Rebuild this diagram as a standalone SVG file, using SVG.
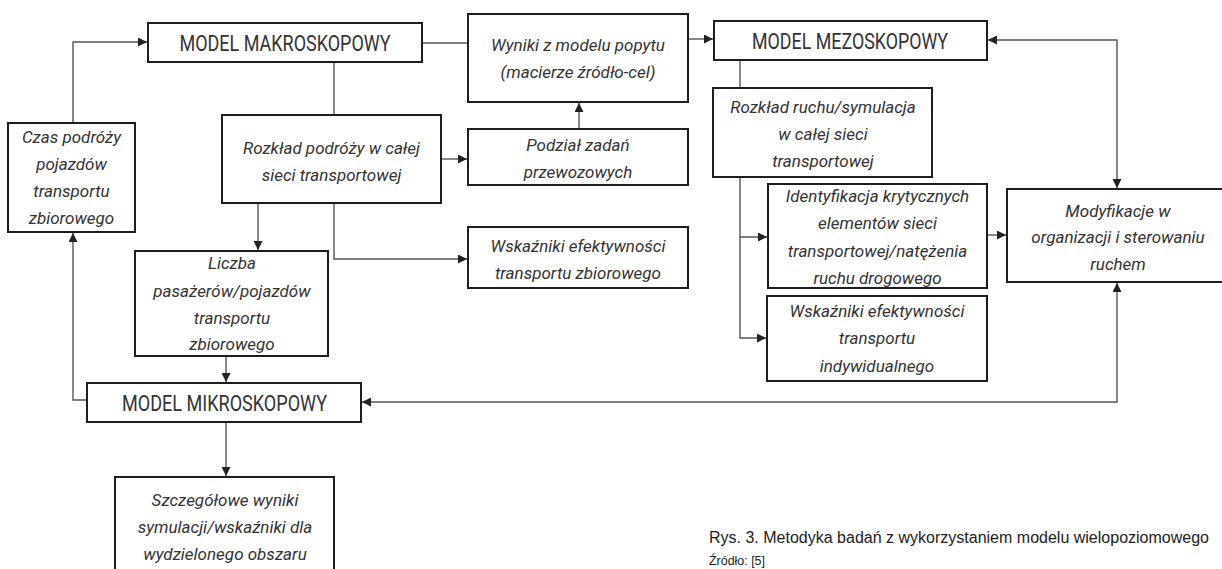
<svg xmlns="http://www.w3.org/2000/svg" width="1222" height="569" viewBox="0 0 1222 569">
<style>
.box{fill:#fff;stroke:#1e1e1e;stroke-width:2}
.c{fill:none;stroke:#555;stroke-width:1.4}
.t{font-family:Roboto,"Liberation Sans",sans-serif;font-style:italic;font-size:17px;fill:#333;text-anchor:middle}
.h{font-family:Roboto,"Liberation Sans",sans-serif;font-size:22px;fill:#333;text-anchor:middle}
.cap{font-family:"Liberation Sans",Arial,sans-serif;fill:#222}
</style>
<defs>
<marker id="ar" viewBox="0 0 10 10" refX="10" refY="5" markerWidth="9" markerHeight="9" markerUnits="userSpaceOnUse" orient="auto-start-reverse">
<path d="M0,0 L10,5 L0,10 z" fill="#222"/>
</marker>
</defs>
<g id="connectors">
<path class="c" d="M73,123 V42 H147" marker-end="url(#ar)"/>
<path class="c" d="M334,62 V115"/>
<path class="c" d="M422,43 H468"/>
<path class="c" d="M688,39 H713" marker-end="url(#ar)"/>
<path class="c" d="M579,129 V103" marker-end="url(#ar)"/>
<path class="c" d="M441,159 H467" marker-end="url(#ar)"/>
<path class="c" d="M258,203 V250" marker-end="url(#ar)"/>
<path class="c" d="M334,203 V259 H467" marker-end="url(#ar)"/>
<path class="c" d="M226,356 V382" marker-end="url(#ar)"/>
<path class="c" d="M226,422 V476" marker-end="url(#ar)"/>
<path class="c" d="M87,400 H73 V233" marker-end="url(#ar)"/>
<path class="c" d="M740,60 V88"/>
<path class="c" d="M740,177 V237 H767" marker-end="url(#ar)"/>
<path class="c" d="M740,237 V338 H766" marker-end="url(#ar)"/>
<path class="c" d="M987,235 H1006" marker-end="url(#ar)"/>
<path class="c" d="M988,40 H1117 V188" marker-start="url(#ar)" marker-end="url(#ar)"/>
<path class="c" d="M362,402 H1117 V283" marker-start="url(#ar)" marker-end="url(#ar)"/>
</g>
<g id="makro">
<rect class="box" x="148" y="23" width="274" height="39"/>
<text class="h" x="285" y="51" textLength="211" lengthAdjust="spacingAndGlyphs">MODEL MAKROSKOPOWY</text>
</g>
<g id="czas">
<rect class="box" x="8" y="123" width="127" height="109"/>
<text class="t" x="71.5" y="143">Czas podróży</text>
<text class="t" x="71.5" y="170">pojazdów</text>
<text class="t" x="71.5" y="197">transportu</text>
<text class="t" x="71.5" y="224">zbiorowego</text>
</g>
<g id="rozklad-podrozy">
<rect class="box" x="222" y="115" width="219" height="88"/>
<text class="t" x="331.5" y="154">Rozkład podróży w całej</text>
<text class="t" x="331.5" y="181">sieci transportowej</text>
</g>
<g id="wyniki">
<rect class="box" x="468" y="14" width="220" height="88"/>
<text class="t" x="578" y="51">Wyniki z modelu popytu</text>
<text class="t" x="578" y="78">(macierze źródło-cel)</text>
</g>
<g id="podzial">
<rect class="box" x="468" y="129" width="220" height="56"/>
<text class="t" x="578" y="151">Podział zadań</text>
<text class="t" x="578" y="178">przewozowych</text>
</g>
<g id="wskazniki-zbiorowego">
<rect class="box" x="468" y="227" width="220" height="61"/>
<text class="t" x="578" y="252">Wskaźniki efektywności</text>
<text class="t" x="578" y="279">transportu zbiorowego</text>
</g>
<g id="liczba">
<rect class="box" x="135" y="251" width="193" height="105"/>
<text class="t" x="232" y="269">Liczba</text>
<text class="t" x="232" y="297">pasażerów/pojazdów</text>
<text class="t" x="232" y="324">transportu</text>
<text class="t" x="232" y="350">zbiorowego</text>
</g>
<g id="mikro">
<rect class="box" x="87" y="383" width="274" height="39"/>
<text class="h" x="224.5" y="411" textLength="205" lengthAdjust="spacingAndGlyphs">MODEL MIKROSKOPOWY</text>
</g>
<g id="szczegolowe">
<rect class="box" x="115" y="477" width="219" height="110"/>
<text class="t" x="225" y="506">Szczegółowe wyniki</text>
<text class="t" x="225" y="533">symulacji/wskaźniki dla</text>
<text class="t" x="225" y="560">wydzielonego obszaru</text>
</g>
<g id="mezo">
<rect class="box" x="714" y="21" width="273" height="39"/>
<text class="h" x="850" y="49" textLength="196" lengthAdjust="spacingAndGlyphs">MODEL MEZOSKOPOWY</text>
</g>
<g id="rozklad-ruchu">
<rect class="box" x="713" y="88" width="219" height="89"/>
<text class="t" x="823" y="113">Rozkład ruchu/symulacja</text>
<text class="t" x="823" y="140">w całej sieci</text>
<text class="t" x="823" y="167">transportowej</text>
</g>
<g id="identyfikacja">
<rect class="box" x="768" y="184" width="219" height="104"/>
<text class="t" x="877.5" y="202">Identyfikacja krytycznych</text>
<text class="t" x="877.5" y="229">elementów sieci</text>
<text class="t" x="877.5" y="257">transportowej/natężenia</text>
<text class="t" x="877.5" y="284">ruchu drogowego</text>
</g>
<g id="wskazniki-indywidualnego">
<rect class="box" x="767" y="296" width="220" height="85"/>
<text class="t" x="877" y="317">Wskaźniki efektywności</text>
<text class="t" x="877" y="344">transportu</text>
<text class="t" x="877" y="372">indywidualnego</text>
</g>
<g id="modyfikacje">
<rect class="box" x="1007" y="189" width="223" height="93"/>
<text class="t" x="1118" y="217">Modyfikacje w</text>
<text class="t" x="1118" y="243">organizacji i sterowaniu</text>
<text class="t" x="1118" y="270">ruchem</text>
</g>
<g id="caption">
<text class="cap" x="709" y="543" font-size="16" textLength="500" lengthAdjust="spacingAndGlyphs">Rys. 3. Metodyka badań z wykorzystaniem modelu wielopoziomowego</text>
<text class="cap" x="709" y="565" font-size="12" textLength="56" lengthAdjust="spacingAndGlyphs">Źródło: [5]</text>
</g>
</svg>
